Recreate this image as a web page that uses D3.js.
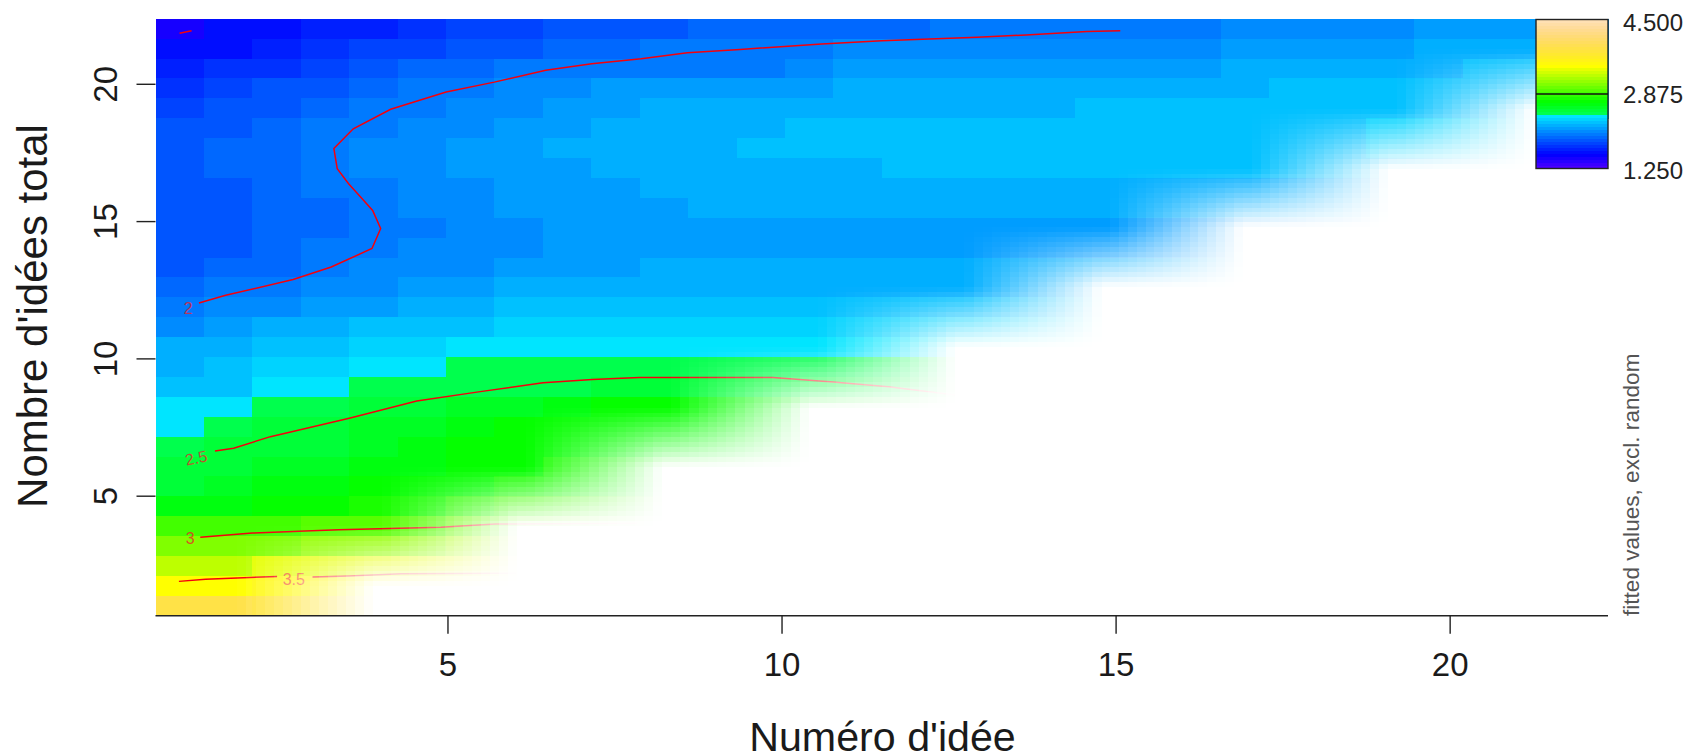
<!DOCTYPE html>
<html><head><meta charset="utf-8">
<script src="https://cdnjs.cloudflare.com/ajax/libs/d3/7.8.5/d3.min.js"></script>
<style>html,body{margin:0;padding:0;background:#fff;overflow:hidden}svg{display:block}text{font-family:"Liberation Sans",Arial,sans-serif}</style>
</head><body><div id="chart"></div>
<script>
const xTickValues=[5,10,15,20], yTickValues=[5,10,15,20];
const xTitle="Numéro d'idée", yTitle="Nombre d'idées total", sideLabel="fitted values, excl. random";
const zRange=[1.25,4.5], zLabels=[4.5,2.875,1.25];
const axisDomain=[0.63,22.37];
const _=null;
// fitted values, top row (largest total) first, 30 x 30 grid
const fitRows=[
[1.48,1.61,1.61,1.67,1.67,1.74,1.80,1.80,1.87,1.87,1.87,1.93,1.93,1.93,1.93,1.93,2.00,2.00,2.00,2.00,2.00,2.00,2.06,2.06,2.06,2.06,2.13,2.13,2.13,2.13],
[1.61,1.61,1.67,1.74,1.80,1.80,1.87,1.87,1.93,1.93,2.00,2.00,2.00,2.00,2.06,2.06,2.06,2.06,2.06,2.06,2.06,2.06,2.13,2.13,2.13,2.13,2.19,2.19,2.19,2.19],
[1.67,1.74,1.74,1.80,1.87,1.93,1.93,2.00,2.00,2.00,2.00,2.00,2.00,2.06,2.13,2.13,2.13,2.13,2.13,2.13,2.13,2.13,2.19,2.19,2.19,2.19,2.19,2.26,2.26,2.26],
[1.74,1.80,1.87,1.87,1.93,2.00,2.00,2.06,2.06,2.13,2.13,2.13,2.13,2.13,2.19,2.19,2.19,2.19,2.19,2.19,2.19,2.19,2.19,2.26,2.26,2.26,2.26,2.26,2.26,2.26],
[1.80,1.87,1.87,1.93,2.00,2.00,2.06,2.06,2.13,2.13,2.19,2.19,2.19,2.19,2.19,2.19,2.19,2.19,2.19,2.26,2.26,2.26,2.26,2.26,2.26,2.26,2.26,2.26,2.26,2.26],
[1.87,1.87,1.93,2.00,2.00,2.06,2.06,2.13,2.13,2.19,2.19,2.19,2.19,2.26,2.26,2.26,2.26,2.26,2.26,2.26,2.26,2.26,2.26,2.26,2.26,2.32,2.32,2.32,2.32,_],
[1.87,1.93,1.93,2.00,2.06,2.06,2.13,2.13,2.19,2.19,2.19,2.19,2.26,2.26,2.26,2.26,2.26,2.26,2.26,2.26,2.26,2.26,2.26,2.26,2.26,2.32,2.32,2.32,2.32,_],
[1.87,1.93,1.93,2.00,2.06,2.06,2.13,2.13,2.13,2.19,2.19,2.19,2.19,2.19,2.19,2.26,2.26,2.26,2.26,2.26,2.26,2.26,2.26,2.26,2.26,2.26,2.26,2.26,2.26,_],
[1.87,1.87,1.93,2.00,2.00,2.06,2.06,2.13,2.13,2.13,2.19,2.19,2.19,2.19,2.19,2.19,2.19,2.19,2.19,2.19,2.19,2.19,2.19,2.19,2.19,2.19,_,_,_,_],
[1.87,1.87,1.93,1.93,2.00,2.06,2.06,2.13,2.13,2.13,2.13,2.19,2.19,2.19,2.19,2.19,2.19,2.19,2.19,2.19,2.19,2.19,2.19,2.19,2.19,2.19,_,_,_,_],
[1.87,1.87,1.93,1.93,2.00,2.00,2.06,2.06,2.13,2.13,2.13,2.13,2.13,2.13,2.13,2.13,2.13,2.13,2.13,2.13,2.13,2.13,2.13,2.13,2.13,2.13,_,_,_,_],
[1.87,1.87,1.93,2.00,2.00,2.06,2.06,2.06,2.13,2.13,2.13,2.13,2.13,2.13,2.13,2.13,2.13,2.13,2.13,2.13,2.13,2.13,2.13,_,_,_,_,_,_,_],
[1.87,1.93,1.93,2.00,2.06,2.06,2.06,2.13,2.13,2.13,2.19,2.19,2.19,2.19,2.19,2.19,2.19,2.19,2.19,2.19,2.19,2.19,2.19,_,_,_,_,_,_,_],
[1.93,2.00,2.00,2.06,2.06,2.13,2.13,2.19,2.19,2.19,2.19,2.19,2.19,2.19,2.19,2.19,2.19,2.19,2.19,2.19,2.19,2.19,2.19,_,_,_,_,_,_,_],
[2.00,2.06,2.06,2.13,2.13,2.19,2.19,2.26,2.26,2.26,2.26,2.26,2.26,2.26,2.26,2.26,2.26,2.26,2.26,2.26,_,_,_,_,_,_,_,_,_,_],
[2.06,2.13,2.19,2.19,2.26,2.26,2.26,2.32,2.32,2.32,2.32,2.32,2.32,2.32,2.32,2.32,2.32,2.32,2.32,2.32,_,_,_,_,_,_,_,_,_,_],
[2.19,2.19,2.26,2.26,2.32,2.32,2.39,2.39,2.39,2.39,2.39,2.39,2.39,2.39,2.39,2.39,2.39,2.39,2.39,2.39,_,_,_,_,_,_,_,_,_,_],
[2.19,2.26,2.32,2.32,2.39,2.39,2.45,2.45,2.45,2.45,2.45,2.45,2.45,2.45,2.45,2.45,2.45,_,_,_,_,_,_,_,_,_,_,_,_,_],
[2.26,2.26,2.39,2.39,2.45,2.45,2.45,2.45,2.45,2.52,2.52,2.52,2.52,2.52,2.52,2.52,2.52,_,_,_,_,_,_,_,_,_,_,_,_,_],
[2.39,2.39,2.45,2.45,2.52,2.52,2.58,2.58,2.65,2.71,2.71,2.71,2.71,2.71,2.71,2.71,2.71,_,_,_,_,_,_,_,_,_,_,_,_,_],
[2.39,2.45,2.52,2.52,2.58,2.58,2.65,2.71,2.71,2.71,2.71,2.71,2.71,2.71,_,_,_,_,_,_,_,_,_,_,_,_,_,_,_,_],
[2.45,2.52,2.52,2.52,2.58,2.65,2.71,2.71,2.71,2.71,2.71,2.71,2.71,2.71,_,_,_,_,_,_,_,_,_,_,_,_,_,_,_,_],
[2.52,2.52,2.58,2.58,2.65,2.65,2.71,2.71,2.78,2.78,2.78,2.78,2.78,2.78,_,_,_,_,_,_,_,_,_,_,_,_,_,_,_,_],
[2.52,2.58,2.65,2.65,2.71,2.71,2.71,2.78,2.78,2.78,2.78,_,_,_,_,_,_,_,_,_,_,_,_,_,_,_,_,_,_,_],
[2.65,2.65,2.71,2.71,2.78,2.78,2.84,2.91,2.91,2.91,2.91,_,_,_,_,_,_,_,_,_,_,_,_,_,_,_,_,_,_,_],
[2.91,2.91,2.91,2.97,2.97,2.97,3.04,3.04,3.04,3.04,3.04,_,_,_,_,_,_,_,_,_,_,_,_,_,_,_,_,_,_,_],
[3.10,3.10,3.10,3.17,3.17,3.17,3.23,3.23,_,_,_,_,_,_,_,_,_,_,_,_,_,_,_,_,_,_,_,_,_,_],
[3.30,3.30,3.43,3.43,3.43,3.43,3.43,3.43,_,_,_,_,_,_,_,_,_,_,_,_,_,_,_,_,_,_,_,_,_,_],
[3.49,3.49,3.56,3.56,3.56,3.56,3.62,3.62,_,_,_,_,_,_,_,_,_,_,_,_,_,_,_,_,_,_,_,_,_,_],
[3.88,3.88,3.81,3.81,3.81,_,_,_,_,_,_,_,_,_,_,_,_,_,_,_,_,_,_,_,_,_,_,_,_,_]
];
// coarse visibility grid of the "too far from data" mask: a node shows where idea <= total
const maskNodes=[-0.49,1.72,3.89,6.04,8.21,10.41,12.6,14.79,16.9,19.08,21.25,23.4];
const contour2x=[1.28,1.68,2.69,3.26,3.87,4.0,3.88,3.72,3.52,3.35,3.3,3.59,4.15,4.98,5.7,6.47,7.16,7.9,8.59,9.38,10.6,11.5,12.93,13.66,14.57,15.07];
const contour2y=[12.02,12.3,12.87,13.33,14.0,14.73,15.39,15.82,16.36,16.91,17.64,18.36,19.07,19.7,20.06,20.49,20.73,20.91,21.13,21.25,21.45,21.57,21.69,21.78,21.9,21.93];
const contour15x=[0.99,1.17], contour15y=[21.84,21.93];
const contour25x=[1.52,1.8,2.35,3.53,4.54,5.49,6.43,7.17,7.87,9.87,10.77,11.6,12.6];
const contour25y=[6.63,6.73,7.15,7.82,8.45,8.79,9.11,9.23,9.3,9.3,9.14,8.97,8.67];
const contour3x=[1.3,2.08,3.37,4.9,5.72,7.84];
const contour3y=[3.49,3.64,3.76,3.85,3.97,4.0];
const contour35ax=[0.98,1.38,2.45], contour35ay=[1.88,1.96,2.06];
const contour35bx=[2.98,3.53,4.31,6.03], contour35by=[2.04,2.08,2.16,2.18];
const contourLabels=["2","2.5","3","3.5"];
const contourLabelX=[1.12,1.24,1.15,2.7], contourLabelY=[11.84,6.38,3.46,1.96], contourLabelRot=[0,-12,0,0];

const W=1694,H=754;
const x=d3.scaleLinear().domain(axisDomain).range([155.5,1608]);
const y=d3.scaleLinear().domain(axisDomain).range([615.7,18.7]);
const svg=d3.select("#chart").append("svg").attr("width",W).attr("height",H);
const defs=svg.append("defs");

function hsv(h,s,v){const i=Math.floor(h*6)%6,f=h*6-Math.floor(h*6),p=v*(1-s),q=v*(1-f*s),t=v*(1-(1-f)*s);
 const c=[[v,t,p],[q,v,p],[p,v,t],[p,q,v],[t,p,v],[v,p,q]][i];return d3.rgb(c[0]*255,c[1]*255,c[2]*255).formatHex();}
function topoColors(n){const j=Math.floor(n/3),k=j,i=n-j-k,o=[];
 for(let a=0;a<i;a++)o.push(hsv((43-12*a/(i-1))/60,1,1));
 for(let a=0;a<j;a++)o.push(hsv((23-12*a/(j-1))/60,1,1));
 for(let a=0;a<k;a++)o.push(hsv((10-4*a/(k-1))/60,1-0.7*a/(k-1),1));
 return o;}
const palette=topoColors(50);
const color=d3.scaleQuantize().domain(zRange).range(palette);
const nCell=fitRows.length, step=(axisDomain[1]-axisDomain[0])/nCell;

// cells
const gCells=svg.append("g").attr("shape-rendering","crispEdges");
fitRows.forEach((row,r)=>row.forEach((v,c)=>{
 if(v===null)return;
 const x0=x(axisDomain[0]+c*step),x1=x(axisDomain[0]+(c+1)*step);
 const yT=y(axisDomain[1]-r*step),yB=y(axisDomain[1]-(r+1)*step);
 gCells.append("rect").attr("x",x0).attr("y",yT).attr("width",x1-x0+0.5).attr("height",yB-yT+0.5).attr("fill",color(v));
}));

// contours
const line=d3.line().x(d=>x(d[0])).y(d=>y(d[1]));
const gC=svg.append("g").attr("fill","none").attr("stroke","#f4000c").attr("stroke-width",1.5);
[[contour2x,contour2y],[contour15x,contour15y],[contour25x,contour25y],[contour3x,contour3y],[contour35ax,contour35ay],[contour35bx,contour35by]]
.forEach(p=>gC.append("path").attr("d",line(d3.zip(p[0],p[1]))));
contourLabels.forEach((t,i)=>{
 svg.append("text").attr("transform",`translate(${x(contourLabelX[i])},${y(contourLabelY[i])}) rotate(${contourLabelRot[i]})`)
  .attr("text-anchor","middle").attr("dy","0.36em").attr("font-size",16).attr("fill","#f0202a").attr("opacity",0.75).text(t);
});

// mask: each coarse tile blends its four corners bilinearly, in small flat steps
defs.append("clipPath").attr("id","plotClip").append("rect").attr("x",x.range()[0]).attr("y",y.range()[1])
 .attr("width",x.range()[1]-x.range()[0]).attr("height",y.range()[0]-y.range()[1]);
const gF=svg.append("g").attr("clip-path","url(#plotClip)").attr("shape-rendering","crispEdges").attr("fill","#fff");
const subX=16,subY=12,inset=9;
const shown=(i,j)=>i<=Math.max(j,1)?1:0;
for(let i=0;i<maskNodes.length-1;i++)for(let j=0;j<maskNodes.length-1;j++){
 const xl=x(maskNodes[i]),xr=x(maskNodes[i+1]),yt=y(maskNodes[j+1]),yb=y(maskNodes[j]);
 const tl=shown(i,j+1),tr=shown(i+1,j+1),bl=shown(i,j),br=shown(i+1,j);
 const sum=tl+tr+bl+br;
 if(sum===4)continue;
 if(sum===0){gF.append("rect").attr("x",Math.round(xl)).attr("y",Math.round(yt)).attr("width",Math.round(xr)-Math.round(xl)).attr("height",Math.round(yb)-Math.round(yt));continue;}
 for(let a=0;a<subX;a++)for(let b=0;b<subY;b++){
  const px0=Math.round(xl+(xr-xl)*a/subX),px1=Math.round(xl+(xr-xl)*(a+1)/subX);
  const py0=Math.round(yt+(yb-yt)*b/subY),py1=Math.round(yt+(yb-yt)*(b+1)/subY);
  const fx=Math.max(0,(((px0+px1)/2-xl-inset)/(xr-xl-inset))),fy=((py0+py1)/2-yt)/(yb-yt);
  const alpha=tl*(1-fx)*(1-fy)+tr*fx*(1-fy)+bl*(1-fx)*fy+br*fx*fy;
  if(alpha>=0.999)continue;
  gF.append("rect").attr("x",px0).attr("y",py0).attr("width",px1-px0).attr("height",py1-py0).attr("fill-opacity",1-alpha);
 }
}

// axes
const axisColor="#222";
const ax=svg.append("g").attr("transform",`translate(0,${y.range()[0]})`)
 .call(d3.axisBottom(x).tickValues(xTickValues).tickFormat(d3.format("d")).tickSize(18).tickPadding(19));
ax.select(".domain").attr("stroke",axisColor).attr("stroke-width",1.6).attr("d",`M${x.range()[0]},0H${x.range()[1]}`);
ax.selectAll("line").attr("stroke",axisColor).attr("stroke-width",1.4);
ax.selectAll("text").attr("font-size",33).attr("fill","#1a1a1a").attr("font-family",'"Liberation Sans"');
const ay=svg.append("g").attr("transform",`translate(${x.range()[0]},0)`)
 .call(d3.axisLeft(y).tickValues(yTickValues).tickFormat(d3.format("d")).tickSize(19).tickPadding(0));
ay.select(".domain").remove();
ay.selectAll("line").attr("stroke",axisColor).attr("stroke-width",1.4);
ay.selectAll("text").attr("font-size",33).attr("fill","#1a1a1a").attr("font-family",'"Liberation Sans"')
 .attr("text-anchor","middle").attr("x",0).attr("dy",0)
 .attr("transform",d=>`translate(-50,0) rotate(-90)`).attr("dominant-baseline","central");
svg.append("text").attr("x",882.5).attr("y",751).attr("text-anchor","middle")
 .attr("font-size",41.2).attr("fill","#1a1a1a").text(xTitle);
svg.append("text").attr("transform",`translate(47,316) rotate(-90)`).attr("text-anchor","middle")
 .attr("font-size",42).attr("fill","#1a1a1a").text(yTitle);

// colour key
const barL=1536,barR=1608,barT=19.5,barB=168.5;
const zy=d3.scaleLinear().domain(zRange).range([barB,barT]);
svg.append("rect").attr("x",barL).attr("y",0).attr("width",barR-barL).attr("height",19).attr("fill","#fff");
const gKey=svg.append("g").attr("shape-rendering","crispEdges");
palette.forEach((c,i)=>{
 const a=zRange[0]+i*(zRange[1]-zRange[0])/50,b=zRange[0]+(i+1)*(zRange[1]-zRange[0])/50;
 gKey.append("rect").attr("x",barL).attr("width",barR-barL).attr("y",zy(b)).attr("height",zy(a)-zy(b)+0.5).attr("fill",c);
});
svg.append("rect").attr("x",barL).attr("y",barT).attr("width",barR-barL).attr("height",barB-barT).attr("fill","none").attr("stroke","#222").attr("stroke-width",1.4);
svg.append("line").attr("x1",barL).attr("x2",barR).attr("y1",zy(2.875)).attr("y2",zy(2.875)).attr("stroke","#111").attr("stroke-width",1.6);
const zLabY=[22,94,170];
zLabels.forEach((v,i)=>svg.append("text").attr("x",1683).attr("y",zLabY[i]).attr("dy","0.36em").attr("text-anchor","end")
 .attr("font-size",24).attr("fill","#222").text(d3.format(".3f")(v)));
svg.append("text").attr("transform","translate(1631,616) rotate(-90)").attr("dominant-baseline","central")
 .attr("font-size",22.6).attr("fill","#555").text(sideLabel);
</script></body></html>
